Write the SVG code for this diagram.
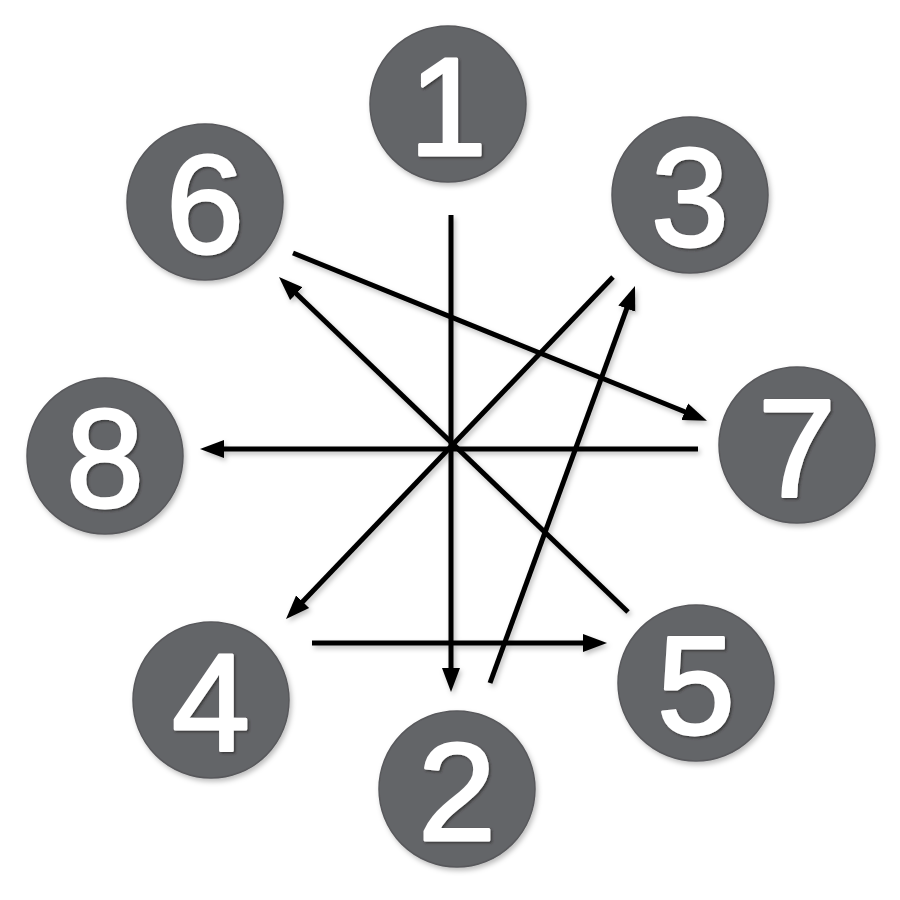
<svg xmlns="http://www.w3.org/2000/svg" width="900" height="900" viewBox="0 0 900 900">
  <style>
    .node circle { fill: #646568; stroke: #58595c; stroke-width: 1.5; }
    .node text { font-family: "Liberation Sans", Arial, sans-serif; font-size: 140px; font-weight: normal; fill: #ffffff; stroke: #ffffff; stroke-width: 3; stroke-linejoin: round; text-anchor: middle; }
    .edge { stroke: #000000; stroke-width: 5; fill: none; }
  </style>
  <defs>
    <filter id="soft" x="-20%" y="-20%" width="140%" height="140%">
      <feDropShadow dx="2" dy="3" stdDeviation="2.5" flood-color="#000000" flood-opacity="0.25"/>
    </filter>
    <filter id="txt" x="-20%" y="-20%" width="140%" height="140%">
      <feDropShadow dx="1.5" dy="1.5" stdDeviation="0.8" flood-color="#2a2a2a" flood-opacity="0.8"/>
    </filter>
    <marker id="arr" markerUnits="userSpaceOnUse" markerWidth="26" markerHeight="20" viewBox="0 0 26 20" refX="10" refY="10" orient="auto">
      <path d="M0,1 L24,10 L0,19 Z" fill="#000000"/>
    </marker>
  </defs>
  <rect width="900" height="900" fill="#ffffff"/>

  <g id="connectors" filter="url(#soft)">
    <line class="edge" x1="451" y1="215" x2="451" y2="678" marker-end="url(#arr)"/>
    <line class="edge" x1="293" y1="253" x2="694" y2="415.5" marker-end="url(#arr)"/>
    <line class="edge" x1="613" y1="277" x2="295.7" y2="608.9" marker-end="url(#arr)"/>
    <line class="edge" x1="628" y1="612" x2="289.1" y2="286.7" marker-end="url(#arr)"/>
    <line class="edge" x1="698" y1="449" x2="214" y2="449" marker-end="url(#arr)"/>
    <line class="edge" x1="312" y1="643" x2="593" y2="643" marker-end="url(#arr)"/>
    <line class="edge" x1="490" y1="683" x2="630.2" y2="299.2" marker-end="url(#arr)"/>
  </g>

  <g id="node1" class="node" filter="url(#soft)">
    <circle cx="448" cy="104" r="78"/>
    <text x="448" y="155" filter="url(#txt)">1</text>
  </g>
  <g id="node2" class="node" filter="url(#soft)">
    <circle cx="457" cy="789" r="78"/>
    <text x="457" y="840" filter="url(#txt)">2</text>
  </g>
  <g id="node3" class="node" filter="url(#soft)">
    <circle cx="690" cy="195" r="78"/>
    <text x="690" y="246" filter="url(#txt)">3</text>
  </g>
  <g id="node4" class="node" filter="url(#soft)">
    <circle cx="211" cy="700" r="78"/>
    <text x="211" y="751" filter="url(#txt)">4</text>
  </g>
  <g id="node5" class="node" filter="url(#soft)">
    <circle cx="696" cy="683" r="78"/>
    <text x="696" y="734" filter="url(#txt)">5</text>
  </g>
  <g id="node6" class="node" filter="url(#soft)">
    <circle cx="205" cy="202" r="78"/>
    <text x="205" y="253" filter="url(#txt)">6</text>
  </g>
  <g id="node7" class="node" filter="url(#soft)">
    <circle cx="797" cy="445" r="78"/>
    <text x="797" y="496" filter="url(#txt)">7</text>
  </g>
  <g id="node8" class="node" filter="url(#soft)">
    <circle cx="105" cy="456" r="78"/>
    <text x="105" y="507" filter="url(#txt)">8</text>
  </g>
</svg>
